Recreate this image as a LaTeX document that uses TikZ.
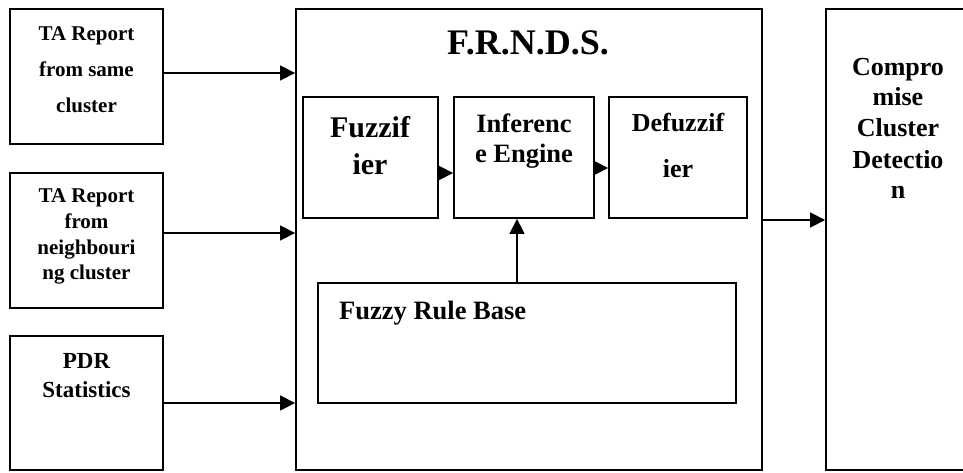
\documentclass[tikz,border=0pt]{standalone}
\usepackage{fontspec}
\setmainfont{Liberation Serif}
\usetikzlibrary{arrows.meta}
\tikzset{
  box/.style={draw, line width=1.8pt, inner sep=0pt},
  arr/.style={line width=1.4pt, -{Triangle[length=15pt,width=15pt]}},
  lbl/.style={inner sep=0pt, anchor=base},
}
\newcommand{\fs}[1]{\fontsize{#1}{#1}\selectfont\bfseries}
\begin{document}
\begin{tikzpicture}[x=1pt,y=-1pt]
\useasboundingbox (0,0) rectangle (963,473);
% boxes
\node[box, minimum width=153, minimum height=135] (s1) at (86.5,76.5) {};
\node[box, minimum width=153, minimum height=135] (s2) at (86.5,240.5) {};
\node[box, minimum width=153, minimum height=134] (s3) at (86.5,403) {};
\node[box, minimum width=466, minimum height=461] (main) at (529,239.5) {};
\node[box, minimum width=135, minimum height=121] (fz) at (370.5,157.5) {};
\node[box, minimum width=140, minimum height=121] (inf) at (524,157.5) {};
\node[box, minimum width=138, minimum height=121] (dfz) at (678,157.5) {};
\node[box, minimum width=418, minimum height=120] (rb) at (527,343) {};
\node[box, minimum width=200, minimum height=461] (out) at (926,239.5) {};
% texts
\node[lbl, font=\fs{21}] (t1a) at (86.5,41) {TA Report};
\node[lbl, font=\fs{21}] (t1b) at (86.5,77) {from same};
\node[lbl, font=\fs{21}] (t1c) at (86.5,113) {cluster};
\node[lbl, font=\fs{21}] (t2a) at (86.5,203) {TA Report};
\node[lbl, font=\fs{21}] (t2b) at (86.5,228) {from};
\node[lbl, font=\fs{21}] (t2c) at (86.5,254) {neighbouri};
\node[lbl, font=\fs{21}] (t2d) at (86.5,279) {ng cluster};
\node[lbl, font=\fs{23}] (t3a) at (86.5,368) {PDR};
\node[lbl, font=\fs{23}] (t3b) at (86.5,397) {Statistics};
\node[lbl, font=\fs{36}] (tm) at (528,55) {F.R.N.D.S.};
\node[lbl, font=\fs{30}] (tfa) at (370,138) {Fuzzif};
\node[lbl, font=\fs{30}] (tfb) at (370,175) {ier};
\node[lbl, font=\fs{26.5}] (tia) at (524,133) {Inferenc};
\node[lbl, font=\fs{26.5}] (tib) at (524,163) {e Engine};
\node[lbl, font=\fs{26}] (tda) at (678,132) {Defuzzif};
\node[lbl, font=\fs{26}] (tdb) at (678,178) {ier};
\node[lbl, anchor=base west, font=\fs{26.5}] (tr) at (339,319) {Fuzzy Rule Base};
\node[lbl, font=\fs{26}] (toa) at (898,76) {Compro};
\node[lbl, font=\fs{26}] (tob) at (898,106) {mise};
\node[lbl, font=\fs{26}] (toc) at (898,137) {Cluster};
\node[lbl, font=\fs{26}] (tod) at (898,168) {Detectio};
\node[lbl, font=\fs{26}] (toe) at (898,198) {n};
% connectors
\coordinate (p1) at ([yshift=3.5pt]s1.east);
\coordinate (p2) at ([yshift=7.5pt]s2.east);
\coordinate (p4) at ([yshift=-15.5pt]fz.east);
\coordinate (p5) at ([yshift=-10.5pt]inf.east);
\coordinate (p6) at ([xshift=-10pt]rb.north);
\coordinate (p7) at ([yshift=19.5pt]main.east);
\draw[arr] (p1) -- (p1 -| main.west);
\draw[arr] (p2) -- (p2 -| main.west);
\draw[arr] (s3.east) -- (s3.east -| main.west);
\draw[arr] (p4) -- (p4 -| inf.west);
\draw[arr] (p5) -- (p5 -| dfz.west);
\draw[arr] (p6) -- (p6 |- inf.south);
\draw[arr] (p7) -- (p7 -| out.west);
\end{tikzpicture}
\end{document}
